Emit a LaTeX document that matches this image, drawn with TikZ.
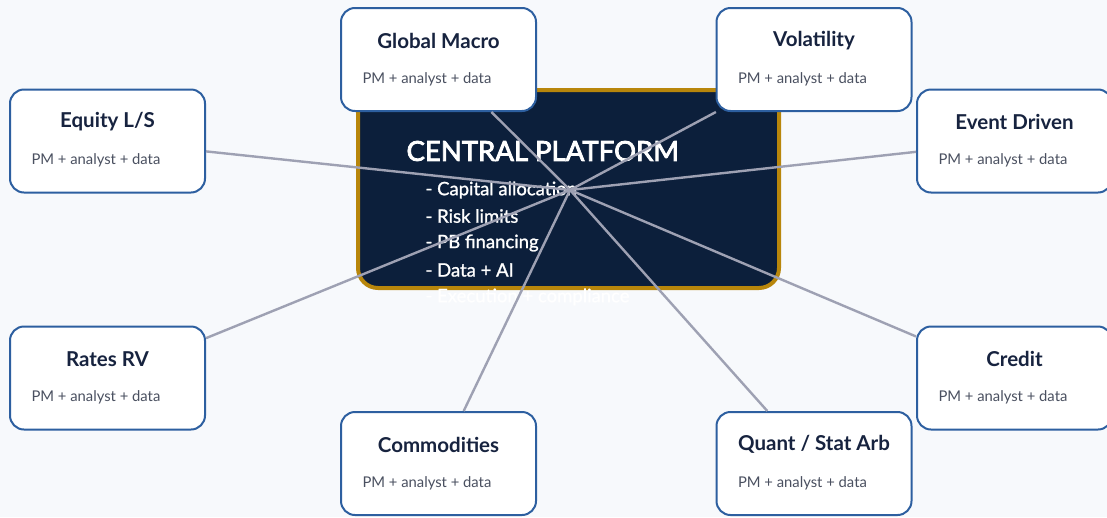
\documentclass[tikz,border=0pt]{standalone}
\usepackage{fontspec}
\setmainfont{Lato}
\newfontfamily\platfont[FakeBold=3]{Lato}
\newfontfamily\itemfont[FakeBold=1.2]{Lato}
\definecolor{bgc}{HTML}{F7F9FC}
\definecolor{navy}{HTML}{0C1F3B}
\definecolor{gold}{HTML}{B8860B}
\definecolor{deskline}{HTML}{2D5FA0}
\definecolor{titlec}{HTML}{17233F}
\definecolor{subc}{HTML}{4A5060}
\definecolor{linkc}{HTML}{9EA1B3}
\begin{document}
\begin{tikzpicture}[x=1pt,y=-1pt,
  platform/.style={draw=gold, line width=4pt, fill=navy, rounded corners=20pt,
    minimum width=421pt, minimum height=198pt, inner sep=0pt},
  desk/.style={draw=deskline, line width=2pt, fill=white, rounded corners=14pt,
    minimum width=195pt, minimum height=103pt, inner sep=0pt},
  desktitle/.style={font=\fontsize{20.5}{24}\selectfont\bfseries, text=titlec, anchor=center},
  desksub/.style={font=\fontsize{14.8}{17}\selectfont, text=subc, anchor=west},
  link/.style={draw=linkc, line width=2.4pt},
  ptitle/.style={font=\platfont\fontsize{27.5}{32}\selectfont, text=white, anchor=west},
  pitem/.style={font=\itemfont\fontsize{18.5}{22}\selectfont, text=white, anchor=west}]
\useasboundingbox (0,0) rectangle (1107,517);
\fill[bgc] (0,0) rectangle (1107,517);

% central platform
\node[platform] (plat) at (568.5,189) {};
\node[ptitle] (ptl) at (403,151) {CENTRAL PLATFORM};
\node[pitem] (p1) at (422,190) {- Capital allocation};
\node[pitem] (p2) at (422,216) {- Risk limits};
\node[pitem] (p3) at (422,243) {- PB financing};
\node[pitem] (p4) at (422,270) {- Data + AI};
\node[pitem] (p5) at (422,297) {- Execution + compliance};
\coordinate (hub) at (570,190);

% desks
\foreach \n/\x/\y/\t in {gm/438.5/59.5/{Global Macro}, vol/814/59.5/{Volatility},
    eq/107.5/141/{Equity L/S}, ev/1014.5/141/{Event Driven},
    rr/107.5/378/{Rates RV}, cr/1014.5/378/{Credit},
    co/438.5/463.5/{Commodities}, qa/814/463.5/{Quant / Stat Arb}} {
  \node[desk] (\n) at (\x,\y) {};
  \node[desktitle] (\n-t) at ([yshift=-33.5pt]\n.north) {\t};
  \node[desksub] (\n-s) at ([xshift=19pt,yshift=-72pt]\n.north west) {PM + analyst + data};
}

% links from the hub to each desk
\foreach \n in {gm,vol,eq,ev,rr,cr,co,qa}
  \draw[link] (hub) -- (\n);
\end{tikzpicture}
\end{document}
